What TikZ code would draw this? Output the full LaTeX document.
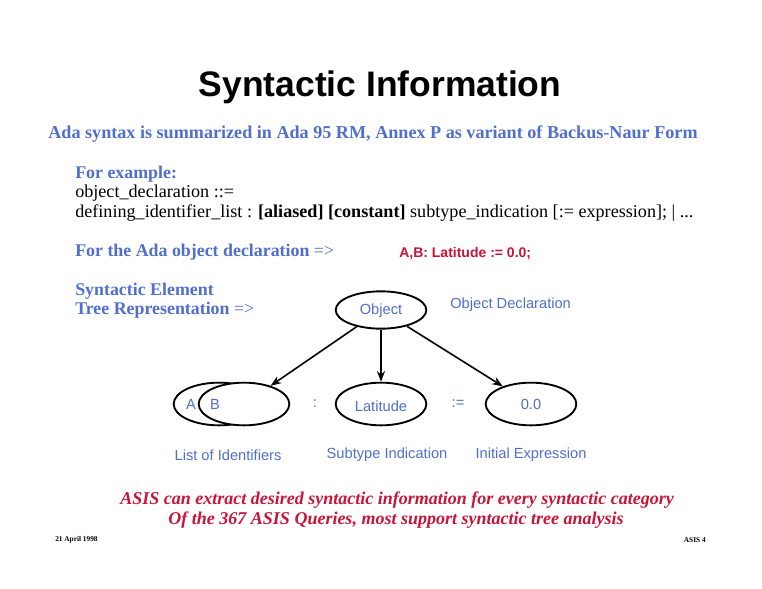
\documentclass[tikz,border=0pt]{standalone}
\usepackage{fontspec}
\setmainfont{Liberation Serif}
\setsansfont{Liberation Sans}
\usetikzlibrary{arrows.meta, positioning, shapes.geometric}

\definecolor{slideblue}{RGB}{80,110,205}
\definecolor{slidered}{RGB}{200,20,55}

\begin{document}
\begin{tikzpicture}[
			x=0.75pt, y=-0.75pt,
			every node/.style={inner sep=0pt},
			bluetext/.style={font=\fontsize{13.4}{15}\selectfont\bfseries, text=slideblue, anchor=west},
			plaintext/.style={font=\fontsize{13.6}{15}\selectfont, anchor=west},
			oval/.style={draw, ellipse, line width=1.4pt, fill=white,
				minimum width=68pt, minimum height=32pt},
			lbl/.style={font=\sffamily\fontsize{11}{13}\selectfont, text=slideblue},
			arr/.style={-{Stealth[length=8pt, width=6pt]}, line width=1.2pt},
			note/.style={font=\fontsize{13.5}{15}\selectfont\bfseries\itshape, text=slidered},
			]
			\useasboundingbox (0,0) rectangle (762,588);

			% =============================================================
			%  HEADER
			% =============================================================
			\node[font=\sffamily\bfseries\fontsize{26.6}{30}\selectfont] (title) at (380,87)
			{Syntactic Information};

			\node[font=\fontsize{13.6}{15}\selectfont\bfseries, text=slideblue] (intro) at (373,134)
			{Ada syntax is summarized in Ada 95 RM, Annex P as variant of Backus-Naur Form};

			% --- BNF example ---
			\node[bluetext] (forex) at (75,174) {For example:};
			\node[plaintext] (bnf1) at (75,193) {object\_declaration ::=};
			\node[plaintext] (bnf2) at (75,213)
			{defining\_identifier\_list : \textbf{[aliased]} \textbf{[constant]} subtype\_indication [:= expression]; | ...};

			\node[bluetext] (forada) at (75,252) {For the Ada object declaration \textmd{=>}};
			\node[font=\sffamily\bfseries\fontsize{10.5}{12}\selectfont, text=slidered, anchor=west]
			(decl) at (399,254) {A,B: Latitude := 0.0;};

			\node[bluetext] (synel) at (75,291) {Syntactic Element};
			\node[bluetext] (treerep) at (75,310) {Tree Representation \textmd{=>}};

			% =============================================================
			%  TREE
			% =============================================================
			\node[oval, minimum height=28pt] (obj) at (381,310) {};
			\node[lbl] (txtobj) at (381,311) {Object};
			\node[lbl, anchor=west] (objdecl) at (450,305) {Object Declaration};

			% --- identifiers ---
			\node[oval] (idA) at (219,404) {};
			\node[oval] (idB) at (244,404) {};
			\node[lbl] (txtA) at (191,404) {A};
			\node[lbl] (txtB) at (215,404) {B};

			\node[lbl] (colon) at (315,404) {:};
			\node[oval] (lat) at (381,404) {};
			\node[lbl] (txtlat) at (381,406) {Latitude};
			\node[lbl] (assign) at (458,404) {:=};
			\node[oval] (init) at (531,404) {};
			\node[lbl] (txtinit) at (531,404) {0.0};

			% --- captions ---
			\node[lbl] (listid) at (228,455) {List of Identifiers};
			\node[lbl] (subind) at (387,455) {Subtype Indication};
			\node[lbl] (initexp) at (531,455) {Initial Expression};

			% ---- ARROWS ----
			\draw[arr] (obj) -- (idB);
			\draw[arr] (obj) -- (lat);
			\draw[arr] (obj) -- (init);

			% =============================================================
			%  FOOTER
			% =============================================================
			\node[note] (asis1) at (397,500)
			{ASIS can extract desired syntactic information for every syntactic category};
			\node[note] (asis2) at (396,520)
			{Of the 367 ASIS Queries, most support syntactic tree analysis};

			\node[font=\fontsize{5.5}{6}\selectfont\bfseries, anchor=west] (date) at (55,540) {21 April 1998};
			\node[font=\fontsize{5.5}{6}\selectfont\bfseries, anchor=east] (page) at (706,540) {ASIS 4};
		\end{tikzpicture}
\end{document}
